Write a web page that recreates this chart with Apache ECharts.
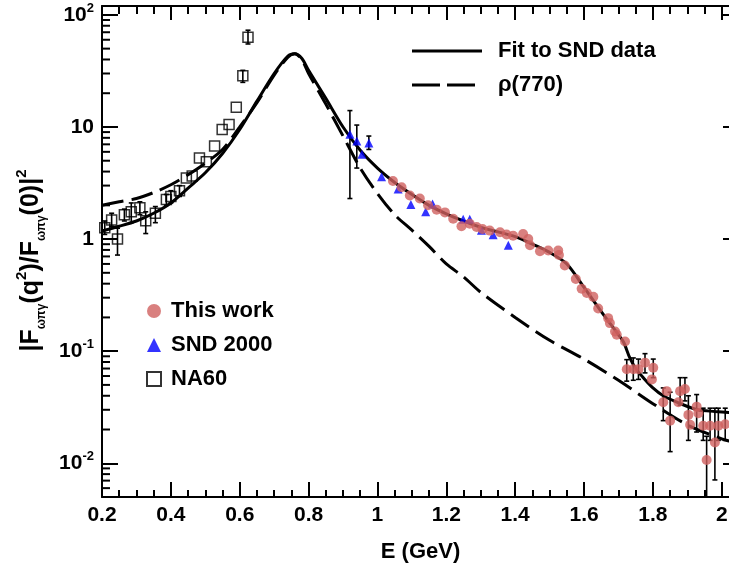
<!DOCTYPE html>
<html><head><meta charset="utf-8">
<script src="https://cdn.jsdelivr.net/npm/echarts@6/dist/echarts.min.js"></script>
<style>html,body{margin:0;padding:0;background:#fff;overflow:hidden}#c{width:745px;height:568px}</style>
</head><body><div id="c"></div>
<script>
// ---- data ----
const fitSND = [[0.2,1.18],[0.25,1.3],[0.3,1.45],[0.35,1.7],[0.4,2.1],[0.45,2.85],[0.5,3.9],[0.55,5.8],[0.6,9.5],[0.65,17],[0.7,30],[0.74,43],[0.76,45],[0.78,41],[0.8,32],[0.85,18],[0.9,10],[0.95,6.2],[1.0,4.3],[1.05,3.2],[1.1,2.5],[1.15,2.0],[1.2,1.68],[1.25,1.45],[1.3,1.27],[1.35,1.16],[1.4,1.05],[1.45,0.9],[1.5,0.76],[1.55,0.6],[1.6,0.37],[1.65,0.225],[1.7,0.14],[1.715,0.12],[1.733,0.087],[1.75,0.07],[1.772,0.058],[1.8,0.047],[1.83,0.04],[1.88,0.034],[1.93,0.03],[1.98,0.029],[2.05,0.028]];
const rho770 = [[0.2,2.0],[0.25,2.15],[0.3,2.3],[0.35,2.6],[0.4,3.05],[0.45,3.75],[0.5,4.75],[0.55,6.3],[0.6,10],[0.65,16.5],[0.7,29],[0.74,42],[0.76,45],[0.78,40],[0.8,30],[0.85,16],[0.9,8.3],[0.95,4.3],[1.0,2.55],[1.05,1.65],[1.1,1.2],[1.15,0.86],[1.2,0.6],[1.25,0.46],[1.3,0.335],[1.4,0.2],[1.5,0.125],[1.6,0.085],[1.7,0.055],[1.8,0.034],[1.9,0.022],[2.0,0.0165],[2.05,0.015]];
// [E, value, errLow, errHigh]
const thisWork = [[1.045,3.3,null,null],[1.07,2.9,null,null],[1.094,2.45,null,null],[1.123,2.3,null,null],[1.147,2.0,null,null],[1.172,1.83,null,null],[1.196,1.73,null,null],[1.22,1.52,null,null],[1.244,1.3,null,null],[1.268,1.37,null,null],[1.288,1.28,null,null],[1.305,1.23,null,null],[1.326,1.19,null,null],[1.356,1.15,null,null],[1.375,1.1,null,null],[1.394,1.07,null,null],[1.423,1.11,null,null],[1.438,1.0,null,null],[1.443,0.88,null,null],[1.472,0.78,null,null],[1.496,0.79,null,null],[1.525,0.79,null,null],[1.527,0.72,null,null],[1.544,0.58,null,null],[1.576,0.44,null,null],[1.593,0.36,null,null],[1.608,0.33,null,null],[1.627,0.305,null,null],[1.641,0.24,null,null],[1.67,0.197,null,null],[1.675,0.178,null,null],[1.69,0.15,null,null],[1.695,0.14,null,null],[1.719,0.122,null,null],[1.724,0.069,0.054,0.084],[1.743,0.069,0.055,0.087],[1.758,0.069,0.056,0.085],[1.777,0.079,0.064,0.095],[1.801,0.071,0.058,0.085],[1.797,0.056,null,null],[1.83,0.035,0.024,0.047],[1.84,0.044,null,null],[1.85,0.024,0.0127,0.043],[1.874,0.035,null,null],[1.879,0.044,0.033,0.058],[1.893,0.046,0.036,0.058],[1.903,0.027,0.016,0.04],[1.908,0.022,null,null],[1.927,0.032,0.019,0.041],[1.932,0.028,null,null],[1.946,0.0216,0.016,0.031],[1.956,0.0107,0.003,0.0174],[1.966,0.0216,0.016,0.031],[1.98,0.0153,0.0071,0.031],[1.99,0.0216,0.016,0.031],[2.01,0.0223,0.016,0.031]];
const snd2000 = [[0.92,8.6,2.3,14],[0.94,7.5,4.3,10.4],[0.955,5.7,null,null],[0.975,7.2,6.3,8.3],[1.012,3.6,null,null],[1.06,2.8,null,null],[1.097,2.03,null,null],[1.14,1.75,null,null],[1.16,2.05,null,null],[1.249,1.5,null,null],[1.268,1.5,null,null],[1.302,1.2,null,null],[1.336,1.09,null,null],[1.38,0.88,null,null]];
const na60 = [[0.208,1.26,1.1,1.45],[0.228,1.48,1.3,1.7],[0.245,1.0,0.72,1.25],[0.265,1.65,1.45,1.85],[0.285,1.75,1.4,2.1],[0.31,1.9,1.65,2.15],[0.327,1.46,1.12,1.75],[0.355,1.7,1.4,1.95],[0.387,2.25,2.0,2.5],[0.4,2.4,2.1,2.7],[0.425,2.7,2.4,3.0],[0.445,3.5,null,null],[0.462,3.66,null,null],[0.483,5.3,null,null],[0.503,4.9,null,null],[0.527,6.75,null,null],[0.549,9.5,null,null],[0.569,10.5,null,null],[0.59,15,null,null],[0.609,28.6,25,32],[0.624,63,55,73]];
const yMinorTicks = [0.006,0.007,0.008,0.009,0.02,0.03,0.04,0.05,0.06,0.07,0.08,0.09,0.2,0.3,0.4,0.5,0.6,0.7,0.8,0.9,2,3,4,5,6,7,8,9,20,30,40,50,60,70,80,90];
const xRange = [0.2, 2.05];
const yRange = [0.005, 120];
const curveNames = ['Fit to SND data', 'ρ(770)'];

// ---- chart ----
const FONT = '"Liberation Sans", Arial, sans-serif';
const chart = echarts.init(document.getElementById('c'), null, {renderer: 'canvas'});
const pts = rows => rows.map(r => [r[0], r[1]]);
const errs = rows => rows.filter(r => r[2] != null).map(r => [r[0], r[2], r[3]]);
const allErr = errs(na60).concat(errs(snd2000)).concat(errs(thisWork));

function errRender(params, api) {
  const x = api.value(0), lo = api.value(1), hi = api.value(2);
  const a = api.coord([x, hi]), b = api.coord([x, lo]);
  const st = {stroke: '#000', lineWidth: 1.6};
  return {type: 'group', children: [
    {type: 'line', shape: {x1: a[0], y1: a[1], x2: b[0], y2: b[1]}, style: st},
    {type: 'line', shape: {x1: a[0] - 2.5, y1: a[1], x2: a[0] + 2.5, y2: a[1]}, style: st},
    {type: 'line', shape: {x1: b[0] - 2.5, y1: b[1], x2: b[0] + 2.5, y2: b[1]}, style: st}
  ]};
}
function minorRender(params, api) {
  const p = api.coord([xRange[0], api.value(1)]);
  return {type: 'line', shape: {x1: p[0], y1: p[1], x2: p[0] + 8, y2: p[1]}, style: {stroke: '#000', lineWidth: 2}};
}
const axisLine = {show: true, lineStyle: {color: '#000', width: 2}};
const lbl = {fontFamily: FONT, fontWeight: 'bold', color: '#000'};
const legendText = (txt, y) => ({type: 'text', left: 498, top: y - 12,
  style: {text: txt, font: 'bold 22px ' + FONT, fill: '#000', lineHeight: 24}});

chart.setOption({
  backgroundColor: '#fff',
  animation: false,
  grid: {left: 102, top: 6, width: 637, height: 494, containLabel: false},
  legend: [
    {data: ['This work', 'SND 2000', 'NA60'], orient: 'vertical', left: 146, top: 299, padding: 0,
     itemWidth: 14, itemHeight: 14, itemGap: 10,
     textStyle: Object.assign({fontSize: 22, lineHeight: 24, padding: [0, 0, 0, 5]}, lbl)}
  ],
  graphic: [
    {type: 'line', shape: {x1: 412, y1: 51, x2: 482, y2: 51}, style: {stroke: '#000', lineWidth: 3}},
    {type: 'line', shape: {x1: 412, y1: 85, x2: 476, y2: 85}, style: {stroke: '#000', lineWidth: 3, lineDash: [28, 7]}},
    legendText(curveNames[0], 51),
    legendText(curveNames[1], 85)
  ],
  xAxis: [
    {type: 'value', min: xRange[0], max: xRange[1], interval: 0.2, position: 'bottom',
     axisLine: axisLine,
     axisTick: {inside: true, length: 15, lineStyle: {color: '#000', width: 2}},
     minorTick: {show: true, splitNumber: 4, length: 7, lineStyle: {color: '#000', width: 2}},
     splitLine: {show: false}, minorSplitLine: {show: false},
     axisLabel: Object.assign({fontSize: 21, margin: 8, showMaxLabel: false}, lbl),
     name: 'E (GeV)', nameLocation: 'middle', nameGap: 44,
     nameTextStyle: Object.assign({fontSize: 22}, lbl)},
    {type: 'value', min: xRange[0], max: xRange[1], interval: 0.2, position: 'top',
     axisLine: axisLine,
     axisTick: {inside: true, length: 14, lineStyle: {color: '#000', width: 2}},
     minorTick: {show: true, splitNumber: 4, length: 8, lineStyle: {color: '#000', width: 2}},
     splitLine: {show: false}, minorSplitLine: {show: false}, axisLabel: {show: false}}
  ],
  yAxis: [
    {type: 'log', logBase: 10, min: yRange[0], max: yRange[1], position: 'left',
     axisLine: axisLine,
     axisTick: {inside: true, length: 16, lineStyle: {color: '#000', width: 2}},
     splitLine: {show: false},
     axisLabel: {margin: 8, showMinLabel: false, showMaxLabel: false,
       formatter: function (v) {
         const e = Math.round(Math.log10(v));
         if (e === 0) return '{b|1}';
         if (e === 1) return '{b|10}';
         return '{b|10}{e|' + e + '}';
       },
       rich: {b: Object.assign({fontSize: 21, lineHeight: 26}, lbl),
              e: Object.assign({fontSize: 13, lineHeight: 14, verticalAlign: 'top'}, lbl)}},
     name: '{a||F}{s|ωπγ}{a|(q}{p|2}{a|)/F}{s|ωπγ}{a|(0)|}{p|2}',
     nameLocation: 'middle', nameGap: 54, nameRotate: 90,
     nameTextStyle: {padding: [0, 18, 0, 0], rich: {
       a: Object.assign({fontSize: 25, lineHeight: 34}, lbl),
       s: Object.assign({fontSize: 12, lineHeight: 12, verticalAlign: 'bottom'}, lbl),
       p: Object.assign({fontSize: 15, lineHeight: 15, verticalAlign: 'top'}, lbl)}}},
    {type: 'log', logBase: 10, min: yRange[0], max: yRange[1], position: 'right',
     axisLine: axisLine,
     axisTick: {inside: true, length: 16, lineStyle: {color: '#000', width: 2}},
     splitLine: {show: false}, axisLabel: {show: false}}
  ],
  series: [
    {type: 'custom', name: 'yminor', renderItem: minorRender, data: yMinorTicks.map(v => [xRange[0], v]),
     encode: {x: 0, y: 1}, silent: true, z: 1},
    {type: 'line', name: curveNames[0], data: fitSND, smooth: 0.3, symbol: 'none', showSymbol: false,
     color: '#000', lineStyle: {color: '#000', width: 3}, z: 2},
    {type: 'line', name: curveNames[1], data: rho770, smooth: 0.3, symbol: 'none', showSymbol: false,
     color: '#000', lineStyle: {color: '#000', width: 3, type: [22, 8]}, z: 2},
    {type: 'custom', name: 'errors', renderItem: errRender, data: allErr, encode: {x: 0, y: [1, 2]},
     clip: true, silent: true, z: 3},
    {type: 'scatter', name: 'NA60', data: pts(na60), symbol: 'rect', symbolSize: 10,
     itemStyle: {color: 'rgba(255,255,255,0)', borderColor: '#000', borderWidth: 1.5}, z: 4},
    {type: 'scatter', name: 'SND 2000', data: pts(snd2000), symbol: 'triangle', symbolSize: 9,
     itemStyle: {color: '#0000ff'}, z: 4},
    {type: 'scatter', name: 'This work', data: pts(thisWork), symbol: 'circle', symbolSize: 10,
     itemStyle: {color: '#d0605f'}, z: 5}
  ]
});
</script></body></html>
